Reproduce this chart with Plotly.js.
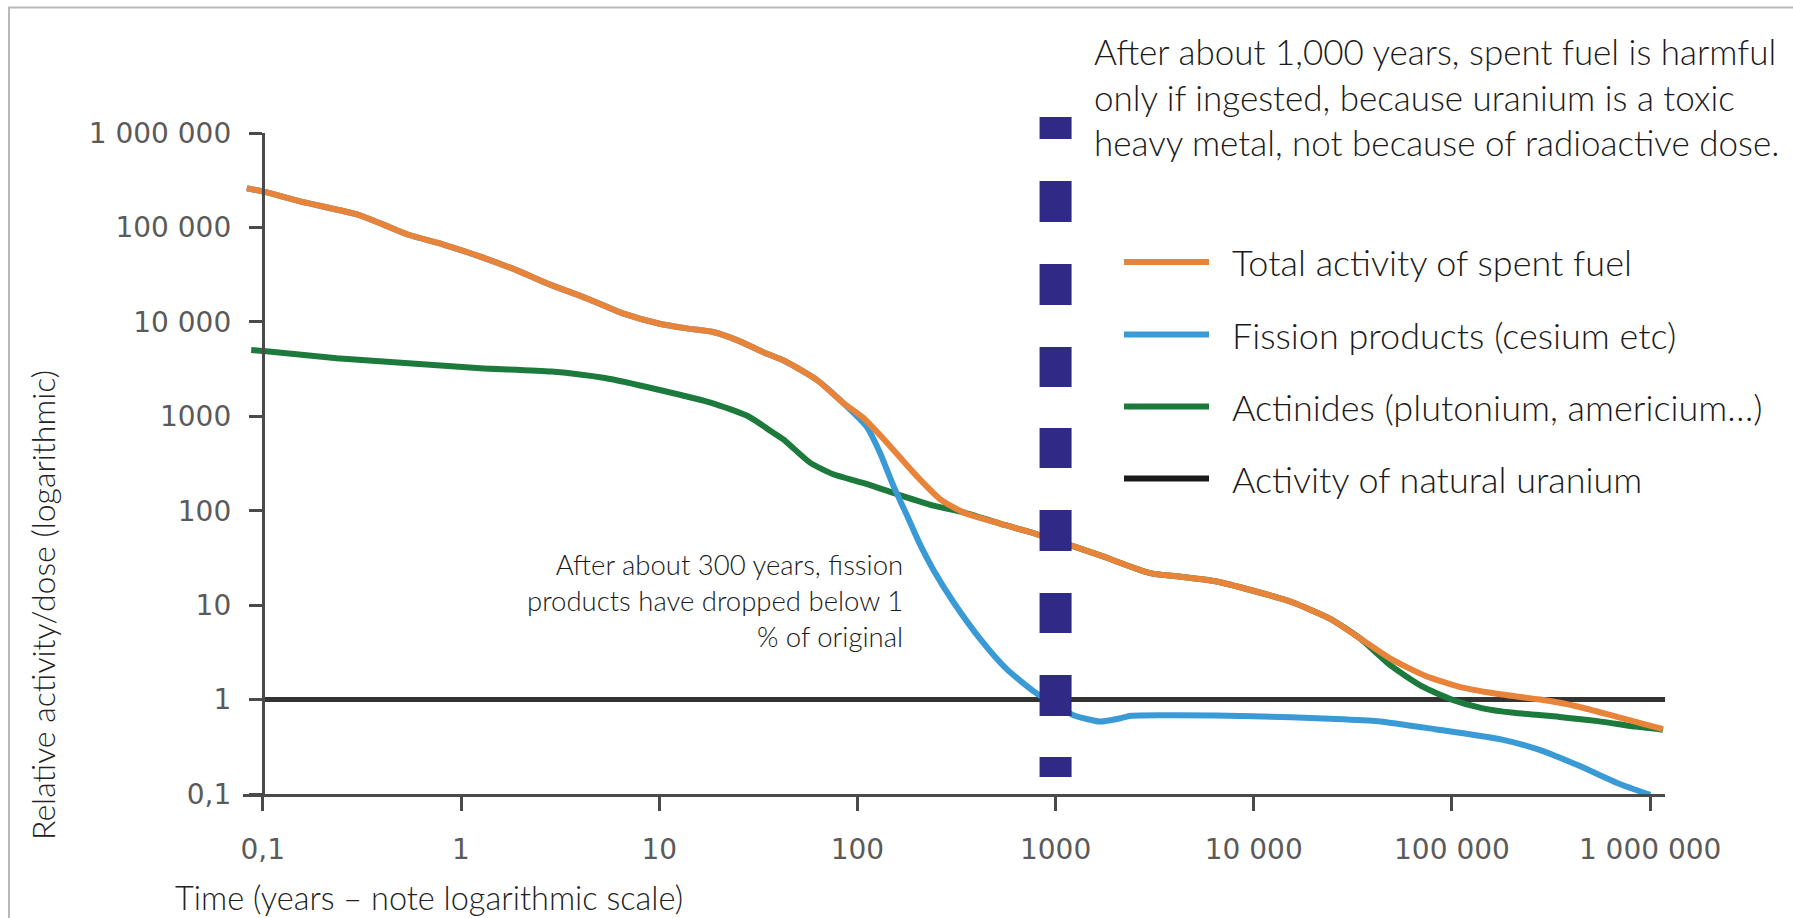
<!DOCTYPE html>
<html><head><meta charset="utf-8">
<script src="https://cdn.plot.ly/plotly-3.0.1.min.js"></script>
<style>html,body{margin:0;padding:0;background:#fff;} #chart{width:1793px;height:918px;}</style>
</head><body><div id="chart"></div>
<script>
// ---------- data (years, relative activity) ----------
const seriesNames = ['Total activity of spent fuel', 'Fission products (cesium etc)', 'Actinides (plutonium, americium\u2026)', 'Activity of natural uranium'];

const totalYears = [0.083, 0.101, 0.156, 0.304, 0.406, 0.543, 0.823, 1.25, 1.89, 2.86, 4.32, 6.56, 9.93, 13.8, 18.5, 24.7, 34.5, 43, 62.4, 85, 107, 141, 192, 261, 343, 525, 773, 975, 1680, 3000, 4080, 6380, 9940, 15500, 24200, 34600, 49400, 73700, 115000, 179000, 279000, 436000, 681000, 1160000];
const totalActivity = [260000, 239000, 188000, 136000, 107000, 83600, 65500, 49100, 35500, 24500, 17700, 12300, 9620, 8530, 7850, 6410, 4650, 3850, 2430, 1380, 962, 525, 253, 133, 96, 73, 58, 49.5, 33.6, 21.8, 20.2, 17.9, 14.2, 10.8, 7.2, 4.4, 2.68, 1.78, 1.33, 1.13, 1.0, 0.84, 0.655, 0.486];

const fissionYears = [0.083, 0.101, 0.156, 0.304, 0.406, 0.543, 0.823, 1.25, 1.89, 2.86, 4.32, 6.56, 9.93, 13.8, 18.5, 24.7, 34.5, 43, 62.4, 85, 111, 130, 152, 178, 207, 242, 305, 416, 567, 773, 975, 1230, 1680, 2100, 2400, 4080, 9940, 24200, 42300, 82400, 179000, 279000, 436000, 681000, 1000000];
const fissionActivity = [260000, 239000, 188000, 136000, 107000, 83600, 65500, 49100, 35500, 24500, 17700, 12300, 9620, 8530, 7850, 6410, 4650, 3850, 2430, 1380, 785, 412, 183, 89, 44, 23.6, 10.8, 4.4, 2.1, 1.23, 0.9, 0.683, 0.585, 0.63, 0.675, 0.683, 0.667, 0.627, 0.591, 0.486, 0.377, 0.292, 0.2, 0.131, 0.098];

const actinidesYears = [0.0874, 0.101, 0.236, 0.543, 1.25, 2.86, 5.32, 9.93, 18.5, 28.1, 37.5, 42.3, 57.7, 75.7, 112, 158, 242, 343, 525, 773, 975, 1680, 3000, 4080, 6380, 9940, 15500, 24200, 34600, 49400, 70300, 100000, 143000, 205000, 349000, 545000, 851000, 1160000];
const actinidesActivity = [5030, 4920, 4120, 3650, 3230, 2980, 2540, 1910, 1380, 1000, 673, 569, 323, 243, 191, 150, 113, 96, 73, 58, 49.5, 33.6, 21.8, 20.2, 17.9, 14.2, 10.8, 7.2, 4.4, 2.27, 1.39, 1.0, 0.808, 0.724, 0.655, 0.591, 0.517, 0.479];

const uraniumYears = [0.1, 1190000];
const uraniumActivity = [1, 1];

const markerYear = 1000;

const xTickVals = [0.1, 1, 10, 100, 1000, 10000, 100000, 1000000];
const xTickText = ['0,1', '1', '10', '100', '1000', '10 000', '100 000', '1 000 000'];
const yTickVals = [0.1, 1, 10, 100, 1000, 10000, 100000, 1000000];
const yTickText = ['0,1', '1', '10', '100', '1000', '10 000', '100 000', '1 000 000'];

const noteTop = ['After about 1,000 years, spent fuel is harmful', 'only if ingested, because uranium is a toxic', 'heavy metal, not because of radioactive dose.'];
const noteMid = ['After about 300 years, fission', 'products have dropped below 1', '% of original'];
const xTitle = 'Time (years \u2013 note logarithmic scale)';
const yTitle = 'Relative activity/dose (logarithmic)';

// ---------- layout helpers ----------
const W = 1793, H = 918, M = {l: 243, r: 128, t: 133, b: 124};
const plotW = W - M.l - M.r, plotH = H - M.t - M.b;
const xr = [-1.1, 6.075];
const px = X => (X - M.l) / plotW;
const py = Y => (H - M.b - Y) / plotH;

const colors = {total: '#e8833a', fission: '#3a9ad5', actinides: '#1b7a3c', uranium: '#333333', marker: '#2e2a86'};
const textFont = 'Lato, "Open Sans", sans-serif';

const traces = [
  {x: uraniumYears, y: uraniumActivity, name: seriesNames[3], mode: 'lines', line: {color: colors.uranium, width: 5}, hoverinfo: 'skip'},
  {x: actinidesYears, y: actinidesActivity, name: seriesNames[2], mode: 'lines', line: {color: colors.actinides, width: 6, shape: 'spline', smoothing: 0.6}, hoverinfo: 'skip'},
  {x: fissionYears, y: fissionActivity, name: seriesNames[1], mode: 'lines', line: {color: colors.fission, width: 6, shape: 'spline', smoothing: 0.6}, hoverinfo: 'skip'},
  {x: totalYears, y: totalActivity, name: seriesNames[0], mode: 'lines', line: {color: colors.total, width: 6, shape: 'spline', smoothing: 0.6}, hoverinfo: 'skip'}
];

const axisStyle = {
  type: 'log', showgrid: false, zeroline: false, showline: true, linecolor: '#4a4a4a', linewidth: 3,
  ticks: 'outside', tickwidth: 3, tickcolor: '#4a4a4a', fixedrange: true,
  tickfont: {family: '"DejaVu Sans", sans-serif', size: 28, color: '#5a5a5a'}
};

const legendRows = [262, 334.5, 406.5, 478.5];
const legendColors = [colors.total, colors.fission, colors.actinides, '#1a1a1a'];

const shapes = [
  {type: 'rect', xref: 'paper', yref: 'paper', x0: px(9), x1: px(1810), y0: py(930), y1: py(7.5), line: {color: '#b8b8b8', width: 2}, fillcolor: 'rgba(0,0,0,0)', layer: 'above'},
  {type: 'line', xref: 'x', yref: 'paper', x0: markerYear, x1: markerYear, y0: py(117), y1: py(777),
   line: {color: colors.marker, width: 32, dash: '22px,42px,41px,42px,41px,42px,40px,41px,40px,42px,41px,42px,40px,42px,41px,41px,20px'}, layer: 'above'}
];
legendRows.forEach((ry, i) => shapes.push({type: 'line', xref: 'paper', yref: 'paper', x0: px(1124), x1: px(1209), y0: py(ry), y1: py(ry), line: {color: legendColors[i], width: 6}}));

const annotations = [
  {xref: 'paper', yref: 'paper', x: px(1092), y: py(27.8), xanchor: 'left', yanchor: 'top', align: 'left', showarrow: false,
   text: noteTop.join('<br>'), font: {family: textFont, size: 35, color: '#1a1a1a', weight: 300}},
  {xref: 'paper', yref: 'paper', x: px(905), y: py(546), xanchor: 'right', yanchor: 'top', align: 'right', showarrow: false,
   text: noteMid.join('<br>'), font: {family: textFont, size: 27.5, color: '#1a1a1a', weight: 300}},
  {xref: 'paper', yref: 'paper', x: px(42), y: py(605), xanchor: 'center', yanchor: 'middle', textangle: -90, showarrow: false,
   text: yTitle, font: {family: textFont, size: 32, color: '#222222', weight: 300}},
  {xref: 'paper', yref: 'paper', x: px(173), y: py(897), xanchor: 'left', yanchor: 'middle', showarrow: false,
   text: xTitle, font: {family: textFont, size: 32.5, color: '#222222', weight: 300}}
];
legendRows.forEach((ry, i) => annotations.push({xref: 'paper', yref: 'paper', x: px(1230), y: py(ry), xanchor: 'left', yanchor: 'middle', showarrow: false,
   text: seriesNames[i], font: {family: textFont, size: 36, color: '#1a1a1a', weight: 300}}));

const layout = {
  width: W, height: H, margin: M, showlegend: false,
  paper_bgcolor: '#ffffff', plot_bgcolor: '#ffffff',
  xaxis: Object.assign({}, axisStyle, {range: xr, tickvals: xTickVals, ticktext: xTickText, ticklen: 14, anchor: 'y', ticklabelstandoff: 14}),
  yaxis: Object.assign({}, axisStyle, {range: [-1, 6], tickvals: yTickVals, ticktext: yTickText, ticklen: 13,
    anchor: 'free', position: (Math.log10(0.1) - xr[0]) / (xr[1] - xr[0]), ticklabelstandoff: 12}),
  shapes: shapes, annotations: annotations
};

Plotly.newPlot('chart', traces, layout, {staticPlot: true, displayModeBar: false});
</script>
</body></html>
